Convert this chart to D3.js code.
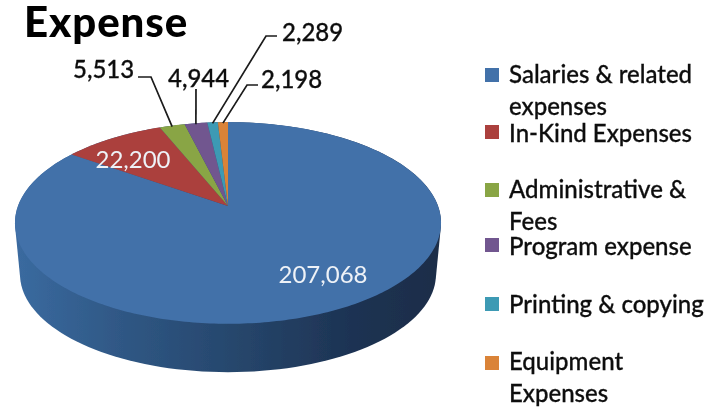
<!DOCTYPE html>
<html><head><meta charset="utf-8">
<script src="https://cdn.jsdelivr.net/npm/d3@7"></script>
<style>html,body{margin:0;background:#fff}svg{display:block}text{font-family:Lato,"Open Sans",sans-serif}</style>
</head><body><div id="c"></div>
<script>
const titleText = "Expense";
const categories = ["Salaries & related|expenses","In-Kind Expenses","Administrative &|Fees","Program expense","Printing & copying","Equipment|Expenses"];
const values = [207068,22200,5513,4944,2289,2198];
const colors = ["#4371a9","#ab403e","#89a545","#71578f","#3c9ab4","#da8337"];

const W=722,H=408;
const svg=d3.select("#c").append("svg").attr("width",W).attr("height",H);
const defs=svg.append("defs");
defs.append("filter").attr("id","soft").attr("x","-5%").attr("y","-5%").attr("width","110%").attr("height","110%")
  .append("feGaussianBlur").attr("stdDeviation",0.45);
const g=svg.append("g").attr("filter","url(#soft)");

// tilted disc: perspective projection of the unit circle
const p=0.168;
const sx=d3.scaleLinear().domain([-1,1]).range([18,438]);
const sy=d3.scaleLinear().domain([-1,1]).range([304,108]);
const bx=d3.scaleLinear().domain([-1,1]).range([23,433]);
const by=d3.scaleLinear().domain([-1,1]).range([353,163]);
const proj=(a,X,Y)=>{const d=1+p*Math.cos(a);return [X(Math.sin(a)/d),Y(Math.cos(a)/d)];};
const topPt=a=>proj(a,sx,sy), bottomPt=a=>proj(a,bx,by);

const arcs=d3.pie().sort(null)(values);
const line=d3.line();

// side wall
const grad=defs.append("linearGradient").attr("id","wall").attr("gradientUnits","userSpaceOnUse")
  .attr("x1",18).attr("x2",440).attr("y1",0).attr("y2",0);
[[0,"#3a6a9f"],[0.25,"#2f5784"],[0.55,"#254469"],[0.8,"#1d3252"],[1,"#1b2d49"]]
  .forEach(s=>grad.append("stop").attr("offset",s[0]).attr("stop-color",s[1]));
const ring=d3.range(0,360,2).map(d=>d*Math.PI/180);
const hull=d3.polygonHull(ring.map(topPt).concat(ring.map(bottomPt)));
g.append("path").attr("d",line(hull)+"Z").attr("fill","url(#wall)");

// top face
g.selectAll("path.slice").data(arcs).join("path").attr("class","slice")
  .attr("fill",(d,i)=>colors[i])
  .attr("d",d=>{
    const n=Math.max(4,Math.ceil((d.endAngle-d.startAngle)*60));
    const pts=d3.range(n+1).map(k=>topPt(d.startAngle+(d.endAngle-d.startAngle)*k/n));
    return line([[sx(0),sy(0)],...pts])+"Z";
  });

// white in-slice labels
const fmt=d3.format(",");
const insideAt=[[323,283],[133,168]];
[0,1].forEach(i=>g.append("text").attr("x",insideAt[i][0]).attr("y",insideAt[i][1])
  .attr("text-anchor","middle").attr("font-size",24).attr("fill","#eef2f7").text(fmt(values[i])));

// leader lines and outside labels (index into values)
const outside=[
  {i:2,label:[73,78],elbow:[[138,77],[151,77]]},
  {i:3,label:[168,87],elbow:[[196,89]]},
  {i:4,label:[282,41],elbow:[[277,36],[266,36]]},
  {i:5,label:[261,88],elbow:[[258,85],[247,85]]}
];
outside.forEach(o=>{
  const a=arcs[o.i], t=topPt((a.startAngle+a.endAngle)/2);
  g.append("path").attr("fill","none").attr("stroke","#1a1a1a").attr("stroke-width",1.7)
    .attr("d",line([...o.elbow,[t[0],t[1]+1]]));
  g.append("text").attr("x",o.label[0]).attr("y",o.label[1]).attr("font-size",24).attr("font-weight",500)
    .attr("fill","#111").attr("stroke","#111").attr("stroke-width",0.3).text(fmt(values[o.i]));
});

// title
g.append("text").attr("x",24).attr("y",37).attr("font-size",42).attr("font-weight",900).attr("fill","#000")
  .attr("letter-spacing",0.9).text(titleText);

// legend
const swatchY=[68,125,183,238,297,356];
const baseY=[[83,115],[142],[198,230],[255],[313],[370,402]];
categories.forEach((c,i)=>{
  g.append("rect").attr("x",485).attr("y",swatchY[i]).attr("width",14).attr("height",14).attr("fill",colors[i]);
  c.split("|").forEach((t,k)=>g.append("text").attr("x",509).attr("y",baseY[i][k]).attr("font-size",24)
    .attr("font-weight",500).attr("fill","#111").attr("stroke","#111").attr("stroke-width",0.3).text(t));
});
</script></body></html>
